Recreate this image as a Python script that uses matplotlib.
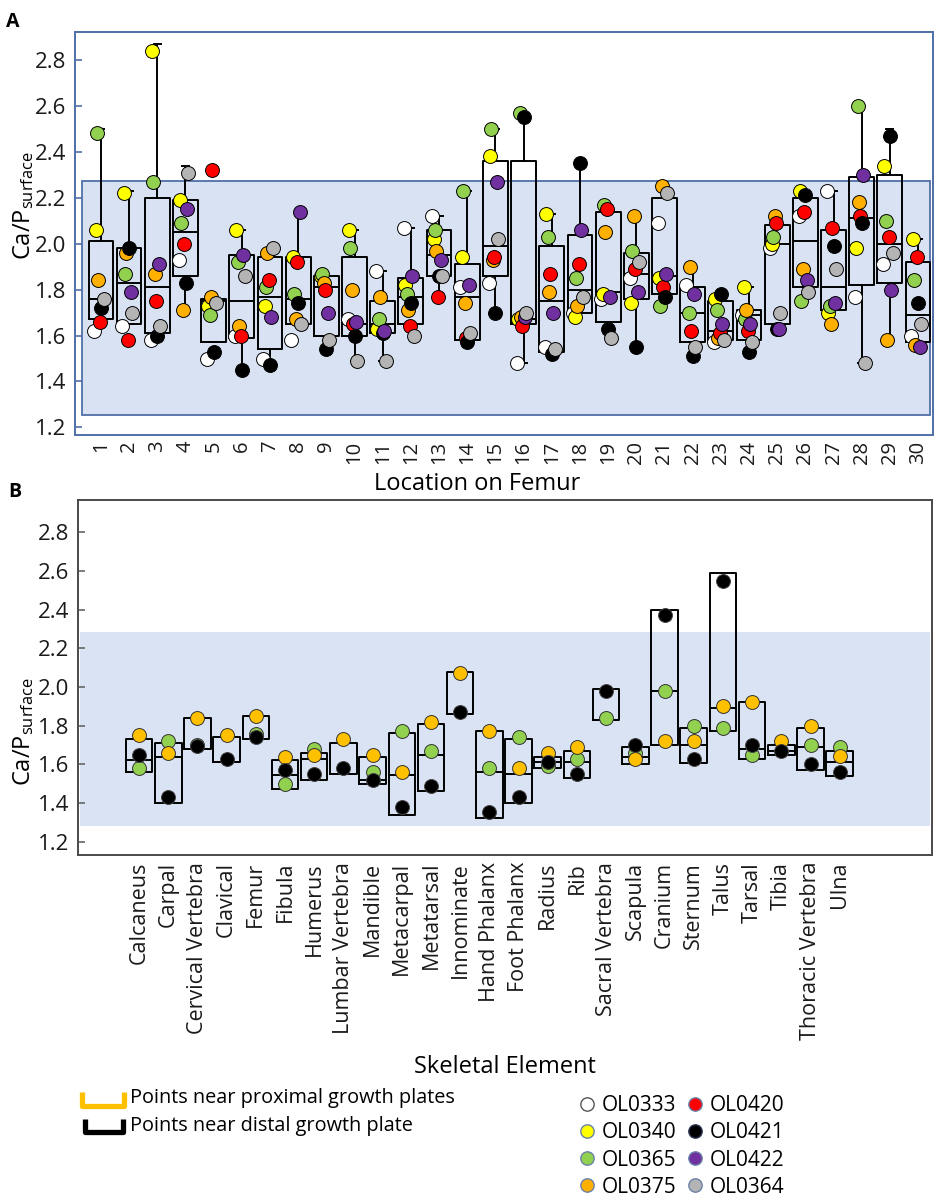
import numpy as np
import matplotlib
matplotlib.use("Agg")
import matplotlib.pyplot as plt
from matplotlib.lines import Line2D

plt.rcParams['font.family'] = ['Open Sans', 'DejaVu Sans']
plt.rcParams['mathtext.default'] = 'regular'

nan = np.nan

# ---------------- panel A : location on femur ----------------
locations = list(range(1, 31))

animals = ['OL0333', 'OL0340', 'OL0365', 'OL0375', 'OL0420', 'OL0421', 'OL0422', 'OL0364']
colors = ['#ffffff', '#ffff00', '#92d050', '#ffb000', '#ff0000', '#000000', '#7030a0', '#b4b4b4']

OL0333 = [1.62, 1.64, 1.58, 1.93, 1.50, 1.60, 1.50, 1.58, nan, 1.67, 1.88, 2.07, 2.12, 1.81, 1.83,
          1.48, 1.55, 1.70, 1.76, 1.85, 2.09, 1.82, 1.57, 1.69, 1.98, 2.12, 2.23, 1.77, 1.91, 1.60]
OL0340 = [2.06, 2.22, 2.84, 2.19, 1.73, 2.06, 1.73, 1.94, 1.86, 2.06, 1.63, 1.82, 2.02, 1.94, 2.38,
          1.67, 2.13, 1.68, 1.78, 1.74, 1.85, nan, 1.76, 1.81, 2.00, 2.23, 1.70, 1.98, 2.34, 2.02]
OL0365 = [2.48, 1.87, 2.27, 2.09, 1.69, 1.92, 1.81, 1.78, 1.87, 1.98, 1.67, 1.78, 2.06, 2.23, 2.50,
          2.57, 2.03, 1.85, 2.17, 1.97, 1.73, 1.70, 1.71, 1.67, 2.03, 1.75, 1.73, 2.60, 2.10, 1.84]
OL0375 = [1.84, 1.96, 1.87, 1.71, 1.77, 1.64, 1.96, 1.67, 1.83, 1.80, 1.77, 1.71, 1.97, 1.74, 1.93,
          1.68, 1.79, 1.73, 2.05, 2.12, 2.25, 1.90, 1.59, 1.71, 2.12, 1.89, 1.65, 2.18, 1.58, 1.56]
OL0420 = [1.66, 1.58, 1.75, 2.00, 2.32, 1.60, 1.84, 1.92, 1.80, 1.65, nan, 1.64, 1.77, 1.59, 1.94,
          1.64, 1.87, 1.91, 2.15, 1.89, 1.81, 1.62, 1.61, 1.62, 2.09, 2.14, 2.07, 2.12, 2.03, 1.94]
OL0421 = [1.72, 1.98, 1.60, 1.83, 1.53, 1.45, 1.47, 1.74, 1.54, 1.60, 1.61, 1.74, 1.86, 1.57, 1.70,
          2.55, 1.52, 2.35, 1.63, 1.55, 1.77, 1.51, 1.78, 1.53, 1.63, 2.21, 1.99, 2.09, 2.47, 1.74]
OL0422 = [nan, 1.79, 1.91, 2.15, nan, 1.95, 1.68, 2.14, 1.70, 1.66, 1.62, 1.86, 1.93, 1.82, 2.27,
          1.68, 1.70, 2.06, 1.77, 1.79, 1.87, 1.78, 1.65, 1.65, 1.63, 1.84, 1.74, 2.30, 1.80, 1.55]
OL0364 = [1.76, 1.70, 1.64, 2.31, 1.74, 1.86, 1.98, 1.65, 1.58, 1.49, 1.49, 1.60, 1.86, 1.61, 2.02,
          1.70, 1.54, 1.77, 1.59, 1.92, 2.22, 1.55, 1.58, 1.57, 1.70, 1.79, 1.89, 1.48, 1.96, 1.65]
femur_series = [OL0333, OL0340, OL0365, OL0375, OL0420, OL0421, OL0422, OL0364]

# box summaries for each femur location
femur_q1 = [1.67, 1.65, 1.61, 1.86, 1.57, 1.59, 1.54, 1.65, 1.60, 1.60, 1.61, 1.65, 1.86, 1.58, 1.86,
            1.65, 1.53, 1.70, 1.66, 1.76, 1.78, 1.57, 1.58, 1.58, 1.65, 1.81, 1.71, 1.82, 1.83, 1.57]
femur_med = [1.76, 1.83, 1.81, 2.05, 1.75, 1.75, 1.77, 1.76, 1.81, 1.65, 1.65, 1.77, 1.95, 1.77, 1.99,
             1.67, 1.75, 1.80, 1.79, 1.87, 1.86, 1.70, 1.62, 1.69, 2.00, 2.01, 1.81, 2.11, 2.00, 1.69]
femur_q3 = [2.01, 1.98, 2.20, 2.19, 1.76, 1.95, 1.94, 1.94, 1.86, 1.94, 1.75, 1.85, 2.06, 1.91, 2.36,
            2.36, 1.99, 2.04, 2.14, 1.96, 2.20, 1.81, 1.75, 1.71, 2.08, 2.20, 2.06, 2.29, 2.30, 1.92]
femur_lo = [1.67, 1.65, 1.61, 1.71, 1.57, 1.45, 1.47, 1.65, 1.54, 1.49, 1.49, 1.65, 1.77, 1.58, 1.70,
            1.48, 1.53, 1.70, 1.59, 1.55, 1.78, 1.57, 1.58, 1.58, 1.65, 1.81, 1.71, 1.48, 1.58, 1.57]
femur_hi = [2.50, 2.23, 2.87, 2.34, 1.76, 2.06, 1.98, 2.14, 1.86, 2.06, 1.88, 2.07, 2.12, 2.23, 2.50,
            2.57, 2.13, 2.35, 2.17, 2.12, 2.25, 1.90, 1.78, 1.81, 2.12, 2.23, 2.23, 2.60, 2.50, 2.02]
band_a = (1.255, 2.275)

# ---------------- panel B : skeletal element ----------------
elements = ['Calcaneus', 'Carpal', 'Cervical Vertebra', 'Clavical', 'Femur', 'Fibula', 'Humerus',
            'Lumbar Vertebra', 'Mandible', 'Metacarpal', 'Metatarsal', 'Innominate', 'Hand Phalanx',
            'Foot Phalanx', 'Radius', 'Rib', 'Sacral Vertebra', 'Scapula', 'Cranium', 'Sternum',
            'Talus', 'Tarsal', 'Tibia', 'Thoracic Vertebra', 'Ulna']
elem_green = [1.58, 1.72, 1.70, nan, 1.755, 1.50, 1.68, nan, 1.56, 1.77, 1.67, nan, 1.58,
              1.74, 1.59, 1.63, 1.84, 1.66, 1.98, 1.80, 1.79, 1.65, nan, 1.70, 1.69]
elem_orange = [1.75, 1.66, 1.84, 1.75, 1.85, 1.64, 1.65, 1.73, 1.65, 1.56, 1.82, 2.07, 1.77,
               1.58, 1.66, 1.69, nan, 1.63, 1.72, 1.72, 1.90, 1.92, 1.72, 1.80, 1.645]
elem_black = [1.65, 1.43, 1.695, 1.63, 1.74, 1.57, 1.55, 1.58, 1.52, 1.38, 1.49, 1.87, 1.355,
              1.43, 1.61, 1.55, 1.98, 1.70, 2.37, 1.63, 2.55, 1.70, 1.67, 1.60, 1.56]
elem_q1 = [1.56, 1.40, 1.68, 1.61, 1.73, 1.47, 1.52, 1.55, 1.50, 1.34, 1.46, 1.86, 1.32,
           1.40, 1.58, 1.53, 1.83, 1.60, 1.70, 1.605, 1.77, 1.63, 1.65, 1.57, 1.54]
elem_med = [1.62, 1.64, 1.68, 1.61, 1.73, 1.545, 1.63, 1.55, 1.52, 1.545, 1.65, 1.86, 1.56,
            1.55, 1.61, 1.61, 1.83, 1.64, 1.98, 1.70, 1.89, 1.68, 1.67, 1.69, 1.61]
elem_q3 = [1.73, 1.71, 1.84, 1.74, 1.85, 1.62, 1.66, 1.71, 1.64, 1.76, 1.81, 2.08, 1.77,
           1.73, 1.64, 1.67, 1.99, 1.69, 2.40, 1.79, 2.59, 1.92, 1.70, 1.79, 1.67]
band_b = (1.28, 2.285)

# ---------------- figure ----------------
fig = plt.figure(figsize=(9.35, 12), dpi=100)
W, H = 935.0, 1200.0

def px_axes(x0, y0, x1, y1):
    return fig.add_axes([x0 / W, 1 - y1 / H, (x1 - x0) / W, (y1 - y0) / H])

blue = '#4f6fa8'
line_kw = dict(color='black', linewidth=1.4)
dot = 100

# panel A
axA = px_axes(75, 32, 933, 435)
axA.set_xlim(0.08, 30.53)
axA.set_ylim(1.167, 2.922)
axA.axhspan(band_a[0], band_a[1], xmin=0.008, xmax=0.997, facecolor='#d9e2f3',
            edgecolor=blue, linewidth=1.3, zorder=0)

statsA = [dict(med=m, q1=a, q3=b, whislo=lo, whishi=hi)
          for a, m, b, lo, hi in zip(femur_q1, femur_med, femur_q3, femur_lo, femur_hi)]
axA.bxp(statsA, positions=locations, widths=0.88, showfliers=False, capwidths=0.25,
        boxprops=line_kw, whiskerprops=line_kw, capprops=line_kw, medianprops=line_kw,
        manage_ticks=False, zorder=2)

offsets = np.linspace(-0.24, 0.1, len(animals))
xpos = np.array(locations, dtype=float)
for k, (vals, col) in enumerate(zip(femur_series, colors)):
    axA.scatter(xpos + offsets[k], vals, s=dot, c=col, edgecolors='black',
                linewidths=0.7, zorder=3)

for sp in axA.spines.values():
    sp.set_color(blue)
    sp.set_linewidth(1.4)
axA.set_yticks(np.arange(1.2, 2.81, 0.2))
axA.set_yticklabels([f'{v:.1f}' for v in np.arange(1.2, 2.81, 0.2)])
axA.tick_params(axis='y', direction='in', color=blue, length=5, width=1.2,
                labelsize=16, labelcolor='#1a1a1a', pad=6)
axA.set_xticks(locations)
axA.set_xticklabels([str(v) for v in locations], rotation=90)
axA.tick_params(axis='x', length=0, labelsize=14.5, labelcolor='#1a1a1a', pad=4)

# panel B
axB = px_axes(78, 500, 932, 855)
nB = len(elements)
xb = np.arange(nB)
axB.set_xlim(-2.09, 27.16)
axB.set_ylim(1.131, 2.967)
axB.axhspan(band_b[0], band_b[1], xmin=0.002, xmax=0.998, facecolor='#dae3f3',
            edgecolor='none', zorder=0)

statsB = [dict(med=m, q1=a, q3=b, whislo=a, whishi=b)
          for a, m, b in zip(elem_q1, elem_med, elem_q3)]
axB.bxp(statsB, positions=xb, widths=0.91, showfliers=False, showcaps=False,
        boxprops=line_kw, whiskerprops=line_kw, medianprops=line_kw,
        manage_ticks=False, zorder=2)

for vals, col, ec in [(elem_green, '#92d050', '#333333'),
                      (elem_orange, '#ffc000', '#333333'),
                      (elem_black, '#000000', '#444444')]:
    axB.scatter(xb, vals, s=dot, c=col, edgecolors=ec, linewidths=0.7, zorder=3)

for sp in axB.spines.values():
    sp.set_color('#4a4a4a')
    sp.set_linewidth(1.4)
axB.set_yticks(np.arange(1.2, 2.81, 0.2))
axB.set_yticklabels([f'{v:.1f}' for v in np.arange(1.2, 2.81, 0.2)])
axB.tick_params(axis='y', direction='in', color='#666666', length=5, width=1.2,
                labelsize=16, labelcolor='#1a1a1a', pad=6)
axB.set_xticks(xb)
axB.set_xticklabels(elements, rotation=90)
axB.tick_params(axis='x', length=0, labelsize=15.5, labelcolor='#1a1a1a', pad=5)

# titles and labels
def ftext(x, y, s, **kw):
    fig.text(x / W, 1 - y / H, s, **kw)

ftext(13, 22, 'A', fontsize=14, fontweight='bold', ha='center', va='center')
ftext(15, 492, 'B', fontsize=14, fontweight='bold', ha='center', va='center')
ylab = 'Ca/P$_{surface}$'
ftext(24, 206, ylab, fontsize=17, rotation=90, ha='center', va='center')
ftext(24, 732, ylab, fontsize=17, rotation=90, ha='center', va='center')
ftext(477, 484, 'Location on Femur', fontsize=17, ha='center', va='center')
ftext(505, 1067, 'Skeletal Element', fontsize=17, ha='center', va='center')

# growth plate key
for (y0, y1, col, x0, x1) in [(1092, 1106, '#ffc000', 82, 124), (1119, 1132, '#000000', 85, 123)]:
    fig.add_artist(Line2D([x0 / W, x0 / W, x1 / W, x1 / W],
                          [1 - y0 / H, 1 - y1 / H, 1 - y1 / H, 1 - y0 / H],
                          transform=fig.transFigure, color=col, linewidth=3.8,
                          solid_joinstyle='round', solid_capstyle='butt'))
ftext(130, 1098, 'Points near proximal growth plates', fontsize=14.3, ha='left', va='center')
ftext(130, 1126, 'Points near distal growth plate', fontsize=14.3, ha='left', va='center')

# animal key
edge_cols = ['#555555', '#6a80a8', '#6a80a8', '#6a80a8', '#6a80a8', '#2a3550', '#6a80a8', '#6a80a8']
handles = [Line2D([], [], marker='o', linestyle='', markersize=9.6, markerfacecolor=c,
                  markeredgecolor=e, markeredgewidth=1.0)
           for c, e in zip(colors, edge_cols)]
fig.legend(handles, animals, ncol=2, loc='upper left',
           bbox_to_anchor=(579 / W, 1 - 1095 / H), frameon=False, fontsize=15,
           handlelength=0.75, handletextpad=0.35, columnspacing=0.5, labelspacing=0.3,
           borderpad=0, borderaxespad=0)

fig.savefig('out.png', dpi=100)
